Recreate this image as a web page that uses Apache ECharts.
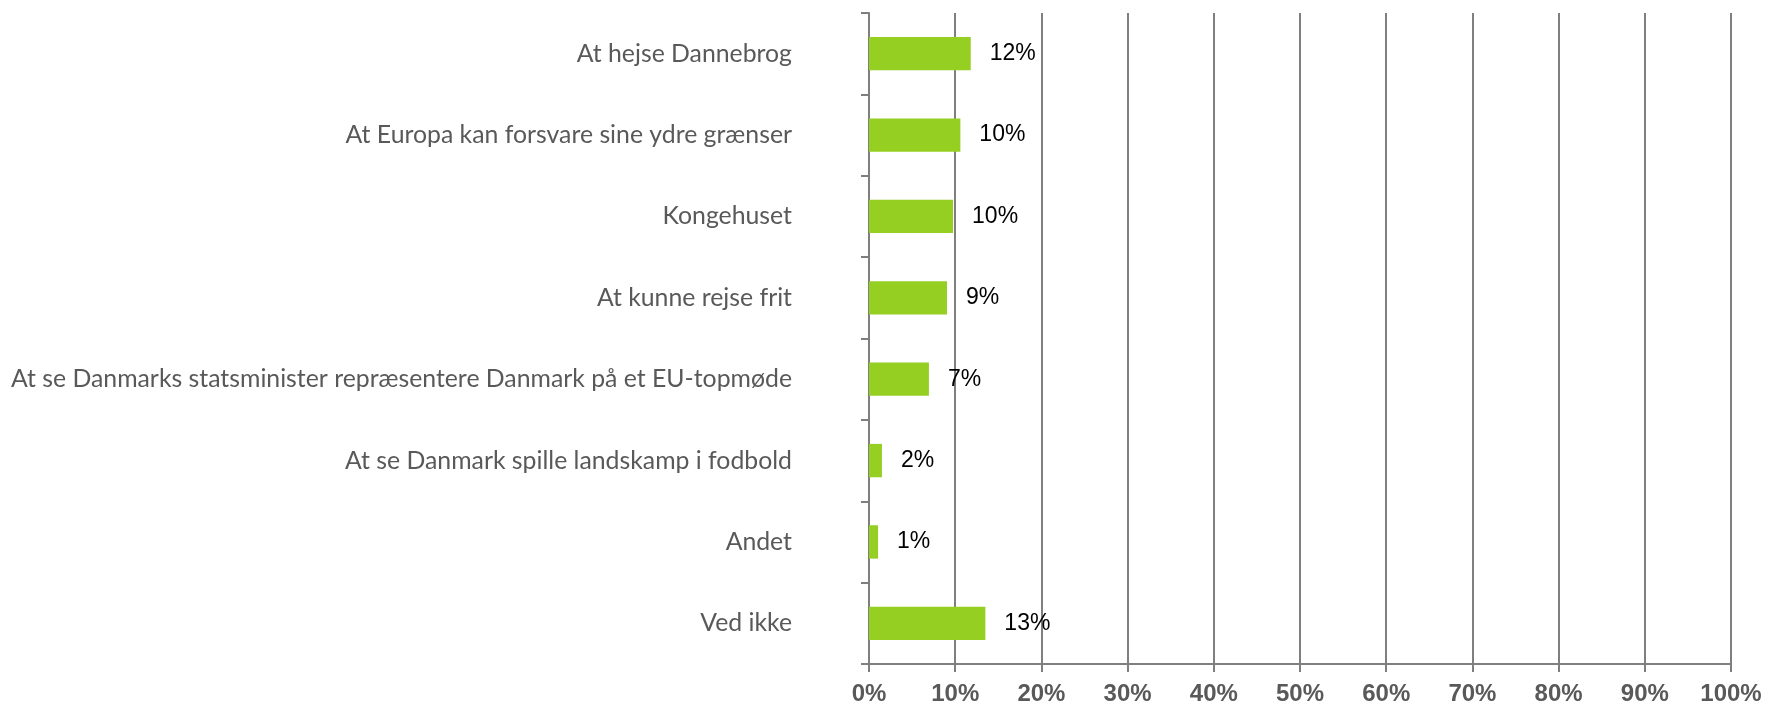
<!DOCTYPE html>
<html>
<head>
<meta charset="utf-8">
<script src="https://cdn.jsdelivr.net/npm/echarts@6/dist/echarts.min.js"></script>
<style>
  html, body { margin: 0; padding: 0; background: #fff; }
  #chart { width: 1768px; height: 711px; }
</style>
</head>
<body>
<div id="chart"></div>
<script>
// categories, top to bottom as in the picture
const categories = [
  'At hejse Dannebrog',
  'At Europa kan forsvare sine ydre grænser',
  'Kongehuset',
  'At kunne rejse frit',
  'At se Danmarks statsminister repræsentere Danmark på et EU-topmøde',
  'At se Danmark spille landskamp i fodbold',
  'Andet',
  'Ved ikke'
]
// bar lengths (percent)
const values = [11.8, 10.6, 9.75, 9.05, 6.95, 1.5, 1.05, 13.5]
// labels as printed next to the bars
const valueLabels = ['12%', '10%', '10%', '9%', '7%', '2%', '1%', '13%']

const chart = echarts.init(document.getElementById('chart'))
const axisGray = '#7f7f7f'
const textGray = '#595959'

const option = {
  animation: false,
  grid: { left: 869, right: 37, top: 13, bottom: 47 },
  xAxis: {
    type: 'value',
    min: 0,
    max: 100,
    interval: 10,
    axisLine: { show: true, lineStyle: { color: axisGray, width: 2 } },
    axisTick: { show: true, length: 8, lineStyle: { color: axisGray, width: 2 } },
    splitLine: { show: true, lineStyle: { color: axisGray, width: 2 } },
    axisLabel: {
      formatter: '{value}%',
      color: textGray,
      fontFamily: 'Liberation Sans, Arial, sans-serif',
      fontWeight: 'bold',
      fontSize: 24,
      margin: 18
    }
  },
  yAxis: {
    type: 'category',
    inverse: true,
    data: categories,
    axisLine: { show: true, lineStyle: { color: axisGray, width: 2 } },
    axisTick: { show: true, length: 8, lineStyle: { color: axisGray, width: 2 } },
    axisLabel: {
      color: textGray,
      fontFamily: 'Lato, sans-serif',
      fontSize: 24.8,
      margin: 77
    }
  },
  series: [{
    type: 'bar',
    data: values,
    barWidth: '41%',
    itemStyle: { color: '#94cf22' },
    label: {
      show: true,
      position: 'right',
      distance: 19,
      color: '#000',
      fontFamily: 'Liberation Sans, Arial, sans-serif',
      fontSize: 23,
      formatter: (p) => valueLabels[p.dataIndex]
    },
    z: 3
  }]
}
chart.setOption(option)
</script>
</body>
</html>
